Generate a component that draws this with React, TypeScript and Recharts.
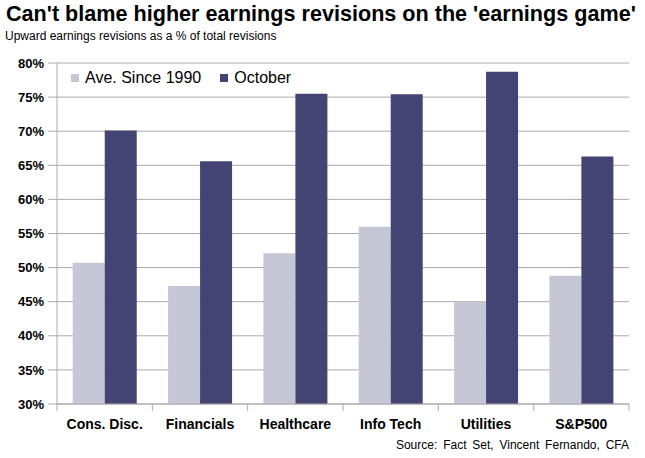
import { Bar, BarChart, CartesianGrid, XAxis, YAxis } from 'recharts';

const categories = ['Cons. Disc.', 'Financials', 'Healthcare', 'Info Tech', 'Utilities', 'S&P500'];
const aveSince1990 = [50.7, 47.3, 52.1, 56.0, 45.0, 48.8];
const october = [70.1, 65.6, 75.5, 75.4, 78.7, 66.3];
const yTicks = [30, 35, 40, 45, 50, 55, 60, 65, 70, 75, 80];

const chartData = categories.map((name, i) => ({
  name,
  ave: aveSince1990[i],
  oct: october[i],
}));

const WIDTH = 645;
const HEIGHT = 458;
const Y_AXIS_W = 57;
const MARGIN = { top: 63, right: 16, left: 0, bottom: 24 };
const PLOT_W = WIDTH - Y_AXIS_W - MARGIN.left - MARGIN.right;
const BAND = PLOT_W / categories.length;

const FONT = '"Liberation Sans", Arial, Helvetica, sans-serif';
const GRID = '#aaaaaa';
const LIGHT = '#c6c6d6';
const DARK = '#434374';

const legendItems = [
  { label: 'Ave. Since 1990', color: LIGHT },
  { label: 'October', color: DARK },
];

function CategoryTick(props: any) {
  const { x, y, payload, index } = props;
  const left = x - BAND / 2;
  const right = x + BAND / 2;
  return (
    <g>
      <line x1={left} x2={left} y1={y - 7} y2={y} stroke={GRID} />
      {index === categories.length - 1 ? (
        <line x1={right} x2={right} y1={y - 7} y2={y} stroke={GRID} />
      ) : null}
      <text
        x={x}
        y={y}
        dy={18}
        textAnchor="middle"
        fontFamily={FONT}
        fontWeight="bold"
        fontSize={14}
        fill="#000"
      >
        {payload.value}
      </text>
    </g>
  );
}

export default function App() {
  return (
    <div
      style={{
        position: 'absolute',
        left: 0,
        top: 0,
        width: WIDTH,
        height: HEIGHT,
        background: '#fff',
        fontFamily: FONT,
      }}
    >
      <div
        style={{
          position: 'absolute',
          left: 6,
          top: 1,
          fontSize: 21.6,
          fontWeight: 'bold',
          whiteSpace: 'nowrap',
          color: '#000',
        }}
      >
        Can't blame higher earnings revisions on the 'earnings game'
      </div>
      <div
        style={{
          position: 'absolute',
          left: 5,
          top: 29,
          fontSize: 12,
          whiteSpace: 'nowrap',
          color: '#000',
        }}
      >
        Upward earnings revisions as a % of total revisions
      </div>
      <BarChart
        width={WIDTH}
        height={HEIGHT}
        data={chartData}
        margin={MARGIN}
        barCategoryGap="16.5%"
        barGap={0}
      >
        <CartesianGrid vertical={false} stroke={GRID} />
        <XAxis
          dataKey="name"
          height={30}
          tickSize={7}
          tickMargin={0}
          tickLine={false}
          axisLine={{ stroke: GRID }}
          tick={<CategoryTick />}
          interval={0}
        />
        <YAxis
          width={Y_AXIS_W}
          domain={[30, 80]}
          ticks={yTicks}
          tickSize={9}
          tickMargin={4}
          interval={0}
          tickFormatter={v => `${v}%`}
          tick={{ fill: '#000', fontSize: 13, fontWeight: 'bold', fontFamily: FONT }}
          tickLine={{ stroke: GRID }}
          axisLine={{ stroke: GRID }}
          allowDataOverflow
        />
        <YAxis
          yAxisId="right"
          orientation="right"
          width={0}
          tick={false}
          tickLine={false}
          axisLine={{ stroke: GRID }}
        />
        <Bar dataKey="ave" name="Ave. Since 1990" fill={LIGHT} isAnimationActive={false} />
        <Bar dataKey="oct" name="October" fill={DARK} isAnimationActive={false} />
      </BarChart>
      <div
        style={{
          position: 'absolute',
          left: 71,
          top: 69,
          display: 'flex',
          alignItems: 'center',
          fontSize: 16,
          color: '#000',
          whiteSpace: 'nowrap',
        }}
      >
        {legendItems.map(item => (
          <div key={item.label} style={{ display: 'flex', alignItems: 'center', marginRight: 19 }}>
            <span
              style={{ width: 8, height: 8, background: item.color, marginRight: 6, display: 'inline-block' }}
            />
            <span>{item.label}</span>
          </div>
        ))}
      </div>
      <div
        style={{
          position: 'absolute',
          right: 16,
          top: 438,
          fontSize: 12,
          whiteSpace: 'nowrap',
          wordSpacing: 2.5,
          color: '#000',
        }}
      >
        Source: Fact Set, Vincent Fernando, CFA
      </div>
    </div>
  );
}
